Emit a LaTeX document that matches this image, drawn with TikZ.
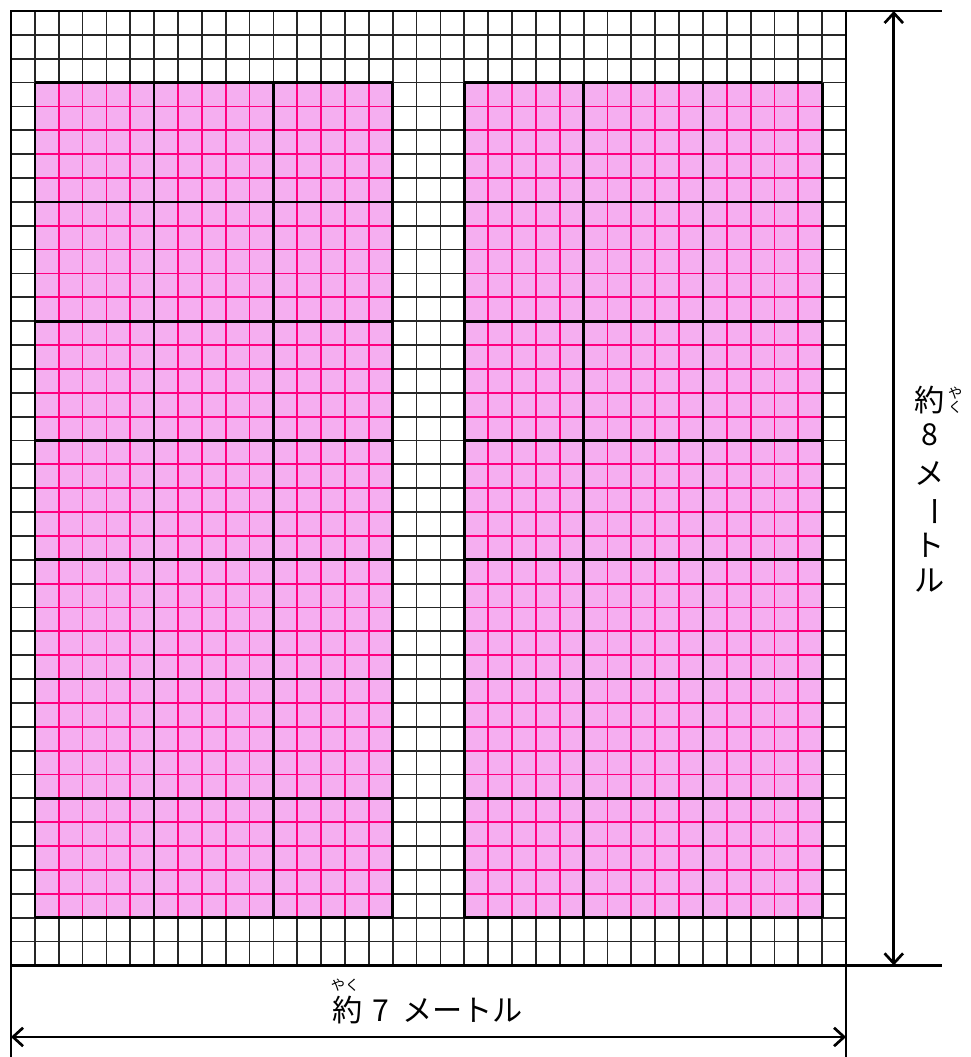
\documentclass[tikz,border=0pt]{standalone}
\usepackage{fontspec}
\newfontfamily\jpfont{Noto Sans CJK JP}
\usetikzlibrary{arrows.meta}
\definecolor{bedpink}{RGB}{245,174,240}
\definecolor{bedline}{RGB}{255,0,128}

\begin{document}
\begin{tikzpicture}[x=0.5cm,y=-0.5cm,
  thingrid/.style={line width=1.05pt,black!85},
  pinkgrid/.style={line width=1.05pt,bedline},
  blockline/.style={line width=1.6pt,black},
  dimline/.style={line width=1.5pt,black},
  dimarrow/.style={line width=1.6pt,{Straight Barb[length=6pt,width=11pt]}-{Straight Barb[length=6pt,width=11pt]}},
  jptext/.style={font=\jpfont\fontsize{18}{21}\selectfont,inner sep=0pt},
  rubytext/.style={font=\jpfont\fontsize{8.5}{10}\selectfont,inner sep=0pt}]

\useasboundingbox (-0.461,-0.461) rectangle (40.20,43.84);

% ground grid: 35 x 40 cells, 5 cells = 1 m
\foreach \x in {0,...,35} \draw[thingrid] (\x,0) -- (\x,40);
\foreach \y in {0,...,40} \draw[thingrid] (0,\y) -- (35,\y);

% two pink beds, 3 x 7 blocks of 5 x 5 cells
\foreach \bx in {1,19} {
  \fill[bedpink] (\bx,3) rectangle (\bx+15,38);
  \foreach \i in {0,...,15} \draw[pinkgrid] (\bx+\i,3) -- (\bx+\i,38);
  \foreach \j in {0,...,35} \draw[pinkgrid] (\bx,3+\j) -- (\bx+15,3+\j);
  % block borders
  \foreach \i in {0,5,10,15} \draw[blockline] (\bx+\i,3) -- (\bx+\i,38);
  \foreach \j in {0,5,...,35} \draw[blockline] (\bx,3+\j) -- (\bx+15,3+\j);
}

% corners of the ground
\coordinate (gridNW) at (0,0);
\coordinate (gridNE) at (35,0);
\coordinate (gridSW) at (0,40);
\coordinate (gridSE) at (35,40);
\draw[blockline] (gridNW) rectangle (gridSE);

% extension lines
\coordinate (extNE) at (39,0);
\coordinate (extSE) at (39,40);
\coordinate (extSW) at (0,43.84);
\coordinate (extSS) at (35,43.84);
\draw[dimline] (gridNE) -- (extNE);
\draw[dimline] (gridSE) -- (extSE);
\draw[dimline] (gridSW) -- (extSW);
\draw[dimline] (gridSE) -- (extSS);

% dimension arrows
\coordinate (vtop) at (37,0);
\coordinate (vbot) at (37,40);
\coordinate (hleft) at (0,43);
\coordinate (hright) at (35,43);
\draw[dimarrow] (vtop) -- (vbot);
\draw[dimarrow] (hleft) -- (hright);

% width label
\node[jptext] (wlabel) at (17.46,41.87) {約\hspace{6pt}7\hspace{8pt}メートル};
\node[rubytext] (wruby) at (14.0,40.85) {やく};

% height label, written top to bottom
\foreach \ch/\yy [count=\i] in {約/16.31,8/17.77,メ/19.37,ト/22.39,ル/23.85}
  \node[jptext] (v\i) at (38.52,\yy) {\ch};
\node[jptext,rotate=-90] (vbar) at (38.52,21.0) {ー};
\node[rubytext] (hruby1) at (39.57,16.0) {や};
\node[rubytext] (hruby2) at (39.57,16.62) {く};

\end{tikzpicture}
\end{document}
